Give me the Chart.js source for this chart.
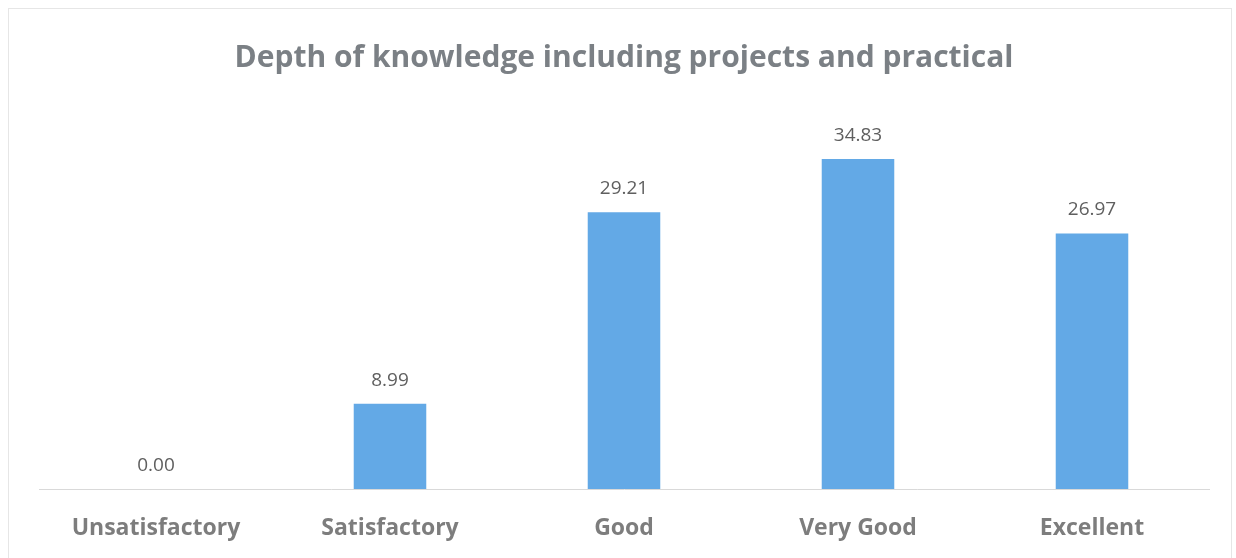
<!DOCTYPE html>
<html>
<head>
<meta charset="utf-8">
<script src="https://cdn.jsdelivr.net/npm/chart.js@4"></script>
<style>
  html, body { margin: 0; padding: 0; background: #fff; }
  #wrap { position: relative; width: 1236px; height: 558px; }
  #frame { position: absolute; left: 8px; top: 8px; width: 1222px; height: 560px; border: 1px solid #e6e6e6; pointer-events: none; }
</style>
</head>
<body>
<div id="wrap">
  <canvas id="cvDepth" width="1236" height="558"></canvas>
  <div id="frame"></div>
</div>
<script>
const categories = ["Unsatisfactory", "Satisfactory", "Good", "Very Good", "Excellent"];
const percentages = [0.00, 8.99, 29.21, 34.83, 26.97];
const chartTitle = "Depth of knowledge including projects and practical";

// writes the value above every bar
const valueLabels = {
    id: "valueLabels",
    afterDatasetsDraw(chart) {
        const ctx = chart.ctx;
        const meta = chart.getDatasetMeta(0);
        ctx.save();
        ctx.font = "19px 'Open Sans', sans-serif";
        ctx.fillStyle = "#5f5f5f";
        ctx.textAlign = "center";
        ctx.textBaseline = "bottom";
        meta.data.forEach((bar, i) => {
            ctx.fillText(percentages[i].toFixed(2), bar.x, bar.y - 14);
        });
        ctx.restore();
    }
};

const ctx = document.getElementById("cvDepth").getContext("2d");
const myChart = new Chart(ctx, {
    type: "bar",
    data: {
        labels: categories,
        datasets: [{
            data: percentages,
            backgroundColor: "#63a9e6",
            barPercentage: 0.31,
            categoryPercentage: 1.0
        }]
    },
    options: {
        responsive: false,
        animation: false,
        layout: { padding: { left: 39, right: 27, top: 0, bottom: 0 } },
        plugins: {
            legend: { display: false },
            tooltip: { enabled: false },
            title: {
                display: true,
                text: chartTitle,
                color: "#7b8085",
                font: { family: "'Open Sans', sans-serif", size: 30, weight: "bold" },
                padding: { top: 40, bottom: 34 }
            }
        },
        scales: {
            y: {
                display: false,
                min: 0,
                max: 40
            },
            x: {
                afterFit: (scale) => { scale.height = 69; },
                grid: { display: false, drawTicks: false },
                border: { display: true, color: "#d9d9d9", width: 1 },
                ticks: {
                    color: "#7d7d7d",
                    padding: 26,
                    font: { family: "'Open Sans', sans-serif", size: 23, weight: "bold" }
                }
            }
        }
    },
    plugins: [valueLabels]
});
</script>
</body>
</html>
